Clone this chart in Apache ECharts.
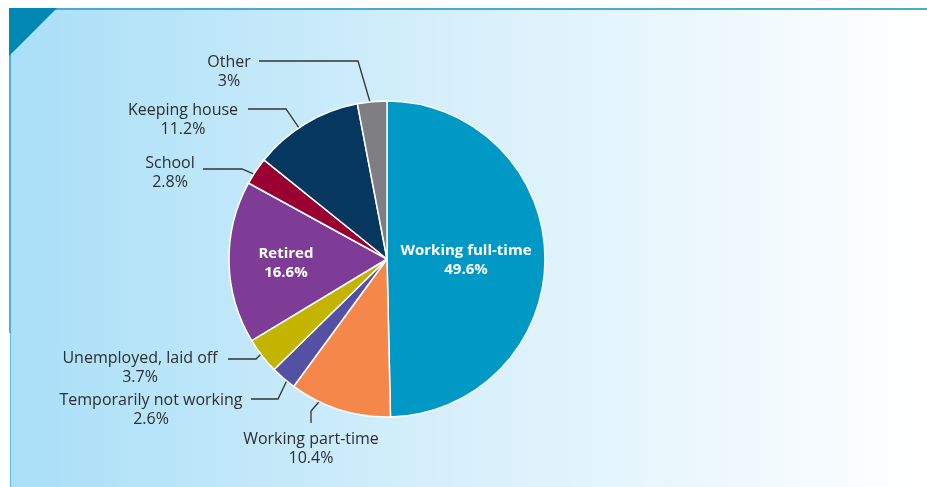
<!DOCTYPE html>
<html>
<head>
<meta charset="utf-8">
<script src="https://cdn.jsdelivr.net/npm/echarts@6/dist/echarts.min.js"></script>
<style>
  html, body { margin: 0; padding: 0; background: #ffffff; }
  #chart { width: 927px; height: 487px; }
</style>
</head>
<body>
<div id="chart"></div>
<script>
// Activity status shares (percent)
const categories = [
  'Working full-time',
  'Working part-time',
  'Temporarily not working',
  'Unemployed, laid off',
  'Retired',
  'School',
  'Keeping house',
  'Other'
];
const shares = [49.6, 10.4, 2.6, 3.7, 16.6, 2.8, 11.2, 3];
const sliceColors = ['#0099c6', '#f5874a', '#5450a3', '#c3b400', '#7e3c97', '#990031', '#06375f', '#7f7f83'];

// Pie geometry
const CENTER = [387, 259];
const RADIUS = 158;
// Open Sans sits a little high in its line box; nudge text blocks down
const TEXT_DY = 2;

// Labels drawn inside their slice, at a fraction of the radius
const insideLabels = { 'Working full-time': 0.5, 'Retired': 0.64 };

// Callouts for the outside labels:
//   t    - where the leader starts across the slice (0 = first edge, 1 = last edge)
//   k    - leader start as a fraction of the radius
//   bend - elbow of the leader, end - where it stops next to the text
//   text - centre of the two-line text block
const callouts = {
  'Other':                   { t: 0.50, k: 0.93, bend: [358, 61],  end: [259, 61],  text: [229, 70] },
  'Keeping house':           { t: 0.43, k: 0.91, bend: [286, 109], end: [248, 109], text: [183, 118] },
  'School':                  { t: 0.43, k: 0.94, bend: [242, 169], end: [203, 169], text: [170, 171] },
  'Unemployed, laid off':    { t: 0.60, k: 0.93, bend: [256, 359], end: [228, 359], text: [140, 366] },
  'Temporarily not working': { t: 0.46, k: 0.93, bend: [278, 399], end: [251, 399], text: [151, 408] },
  'Working part-time':       { t: 0.68, k: 0.93, bend: [311, 411], end: [311, 423], text: [311, 447] }
};

// Angular extent of every slice, clockwise from 12 o'clock
const total = shares.reduce((a, b) => a + b, 0);
const sliceStart = [];
const sliceEnd = [];
let acc = 0;
shares.forEach(v => {
  sliceStart.push(acc / total * Math.PI * 2);
  acc += v;
  sliceEnd.push(acc / total * Math.PI * 2);
});
function polar(angle, r) {
  return [CENTER[0] + r * Math.sin(angle), CENTER[1] - r * Math.cos(angle)];
}

const FONT = '"Open Sans", "Liberation Sans", Arial, sans-serif';

const pieData = categories.map((name, i) => {
  const item = { name: name, value: shares[i], itemStyle: { color: sliceColors[i] } };
  if (insideLabels[name] != null) {
    item.label = { position: 'inside' };
    item.labelLine = { show: false };
  }
  return item;
});

const chart = echarts.init(document.getElementById('chart'), null, { renderer: 'canvas' });

chart.setOption({
  animation: false,
  graphic: {
    elements: [
      {
        type: 'rect', z: -10, silent: true,
        shape: { x: 10, y: 8, width: 917, height: 479 },
        style: {
          fill: new echarts.graphic.LinearGradient(0, 0, 1, 0, [
            { offset: 0, color: '#a9dff8' },
            { offset: 0.5, color: '#d8f0fb' },
            { offset: 1, color: '#ffffff' }
          ])
        }
      },
      {
        type: 'rect', z: -9, silent: true,
        shape: { x: 10, y: 8, width: 917, height: 2 },
        style: { fill: '#48acd0' }
      },
      {
        type: 'rect', z: -9, silent: true,
        shape: { x: 9, y: 8, width: 2, height: 325 },
        style: { fill: '#4fb0d8' }
      },
      {
        type: 'rect', z: -9, silent: true,
        shape: { x: 10, y: 333, width: 1, height: 154 },
        style: { fill: '#5bbce4' }
      },
      {
        type: 'polygon', z: -8, silent: true,
        shape: { points: [[9, 8], [57, 8], [9, 56]] },
        style: { fill: '#0087b3' }
      }
    ]
  },
  series: [{
    type: 'pie',
    center: CENTER,
    radius: RADIUS,
    startAngle: 90,
    clockwise: true,
    avoidLabelOverlap: false,
    emphasis: { disabled: true },
    itemStyle: { borderColor: '#ffffff', borderWidth: 1.5 },
    label: {
      show: true,
      position: 'outside',
      fontFamily: FONT,
      formatter: p => insideLabels[p.name] != null
        ? '{b|' + p.name + '}\n{b|' + p.value + '%}'
        : '{n|' + p.name + '}\n{n|' + p.value + '%}',
      rich: {
        n: { fontFamily: FONT, fontSize: 16, color: '#2e2e2e', lineHeight: 18.5, align: 'center' },
        b: { fontFamily: FONT, fontSize: 15, fontWeight: 'bold', color: '#ffffff', lineHeight: 19, align: 'center' }
      }
    },
    labelLine: {
      show: true,
      smooth: false,
      lineStyle: { color: '#333333', width: 1.3 }
    },
    labelLayout: function (params) {
      const i = params.dataIndex;
      const name = categories[i];
      const mid = (sliceStart[i] + sliceEnd[i]) / 2;
      if (insideLabels[name] != null) {
        const p = polar(mid, RADIUS * insideLabels[name]);
        return { x: p[0], y: p[1] + TEXT_DY, align: 'center', verticalAlign: 'middle' };
      }
      const c = callouts[name];
      const a = sliceStart[i] + (sliceEnd[i] - sliceStart[i]) * c.t;
      const start = polar(a, RADIUS * c.k);
      return {
        x: c.text[0],
        y: c.text[1] + TEXT_DY,
        align: 'center',
        verticalAlign: 'middle',
        labelLinePoints: [start, c.bend, c.end]
      };
    },
    data: pieData
  }]
});
</script>
</body>
</html>
